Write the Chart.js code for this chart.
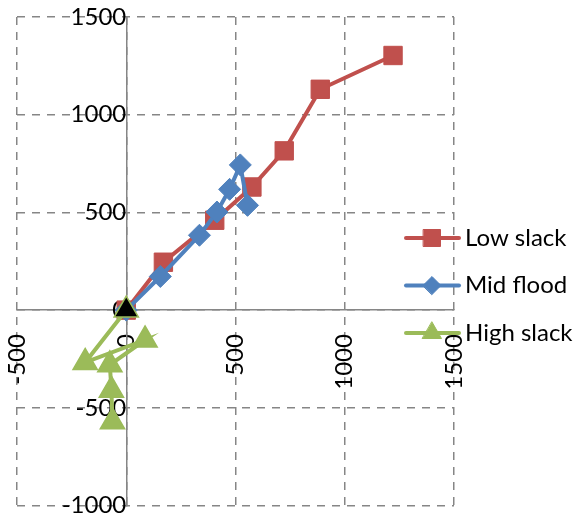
<!DOCTYPE html>
<html>
<head>
<meta charset="utf-8">
<script src="https://cdn.jsdelivr.net/npm/chart.js@4.4.0/dist/chart.umd.min.js"></script>
<style>
  html, body { margin: 0; padding: 0; background: #fff; }
  canvas { display: block; }
</style>
</head>
<body>
<canvas id="chart" width="575" height="521"></canvas>
<script>
// series values
const lowSlackX = [0, 170, 405, 575, 723, 888, 1221];
const lowSlackY = [0, 245, 460, 630, 815, 1130, 1303];

const midFloodX = [0, 156, 335, 415, 473, 522, 555];
const midFloodY = [0, 172, 383, 502, 618, 743, 536];

const highSlackX = [0, -188, 86, -75, -68, -63];
const highSlackY = [0, -268, -153, -280, -410, -572];

// tick labels
const xTicks = [-500, 0, 500, 1000, 1500];
const yTicks = [-1000, -500, 0, 500, 1000, 1500];

const RED = "#C0504D";
const BLUE = "#4F81BD";
const GREEN = "#9BBB59";
const GRID = "#868686";
const FONT = { family: "Lato", size: 24, lineHeight: 1 };

function toPoints(xs, ys) {
    return xs.map(function (x, i) {
        return { x: x, y: ys[i] };
    });
}

function plain(value) {
    return String(value);
}

// legend drawn over the right edge of the plot
const sideLegend = {
    id: "sideLegend",
    afterDraw: function (chart) {
        const ctx = chart.ctx;
        chart.data.datasets.forEach(function (ds, i) {
            const y = 238 + i * 47.5;
            ctx.save();
            ctx.strokeStyle = ds.borderColor;
            ctx.lineWidth = 4;
            ctx.lineCap = "round";
            ctx.beginPath();
            ctx.moveTo(406, y);
            ctx.lineTo(459, y);
            ctx.stroke();

            ctx.fillStyle = ds.backgroundColor;
            ctx.strokeStyle = ds.borderColor;
            ctx.lineWidth = 1;
            Chart.helpers.drawPoint(ctx, {
                pointStyle: ds.pointStyle,
                radius: ds.legendRadius,
                borderWidth: 1,
                rotation: 0
            }, 432, y);

            ctx.fillStyle = "#000";
            ctx.font = "24px Lato";
            ctx.textBaseline = "middle";
            ctx.textAlign = "left";
            ctx.fillText(ds.label, 465, y);
            ctx.restore();
        });
    }
};

const ctx = document.getElementById("chart").getContext("2d");
const myChart = new Chart(ctx, {
    type: "line",
    data: {
        datasets: [
            {
                label: "Low slack",
                data: toPoints(lowSlackX, lowSlackY),
                borderColor: RED,
                backgroundColor: RED,
                borderWidth: 4,
                pointStyle: "rect",
                pointRadius: 13,
                pointBorderWidth: 1,
                legendRadius: 12,
                order: 3
            },
            {
                label: "Mid flood",
                data: toPoints(midFloodX, midFloodY),
                borderColor: BLUE,
                backgroundColor: BLUE,
                borderWidth: 4,
                pointStyle: "rectRot",
                pointRadius: 11,
                pointBorderWidth: 1,
                legendRadius: 9,
                order: 2
            },
            {
                label: "High slack",
                data: toPoints(highSlackX, highSlackY),
                borderColor: GREEN,
                backgroundColor: GREEN,
                pointBackgroundColor: highSlackX.map(function (_, i) {
                    return i === 0 ? "#000" : GREEN;
                }),
                pointBorderColor: GREEN,
                borderWidth: 4,
                pointStyle: "triangle",
                pointRadius: 14,
                pointBorderWidth: 1.5,
                legendRadius: 11,
                order: 1
            }
        ]
    },
    options: {
        responsive: false,
        animation: false,
        layout: { padding: { left: 17, top: 17, right: 121, bottom: 10 } },
        elements: { line: { tension: 0 } },
        plugins: {
            legend: { display: false },
            tooltip: { enabled: false }
        },
        scales: {
            x: {
                type: "linear",
                position: { y: 0 },
                min: xTicks[0],
                max: xTicks[xTicks.length - 1],
                afterBuildTicks: function (axis) {
                    axis.ticks = xTicks.map(function (v) { return { value: v }; });
                },
                // tick marks are hidden; tickLength only spaces the labels off the axis
                grid: { color: GRID, lineWidth: 1.5, tickLength: 24, tickWidth: 0 },
                border: { color: GRID, width: 1.5, dash: [8, 7] },
                ticks: {
                    color: "#000",
                    font: FONT,
                    minRotation: 90,
                    maxRotation: 90,
                    autoSkip: false,
                    padding: 0,
                    callback: plain
                }
            },
            y: {
                type: "linear",
                position: { x: 0 },
                min: yTicks[0],
                max: yTicks[yTicks.length - 1],
                afterBuildTicks: function (axis) {
                    axis.ticks = yTicks.map(function (v) { return { value: v }; });
                },
                grid: { color: GRID, lineWidth: 1.5, tickLength: 26, tickWidth: 0 },
                border: { color: GRID, width: 1.5, dash: [8, 7] },
                ticks: {
                    color: "#000",
                    font: FONT,
                    autoSkip: false,
                    padding: 0,
                    callback: plain
                }
            }
        }
    },
    plugins: [sideLegend]
});
</script>
</body>
</html>
